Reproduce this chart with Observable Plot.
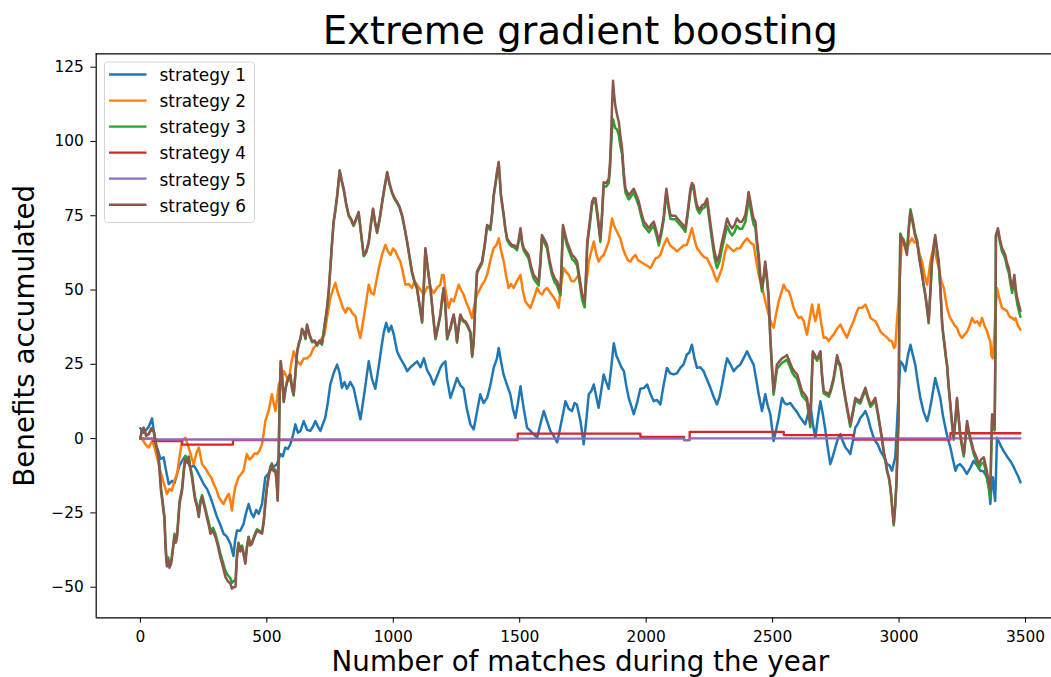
<!DOCTYPE html>
<html><head><meta charset="utf-8">
<script src="https://cdn.jsdelivr.net/npm/d3@7"></script>
<script src="https://cdn.jsdelivr.net/npm/@observablehq/plot@0.6"></script>
<style>
html,body{margin:0;padding:0;background:#fff;}
#chart{width:1051px;height:677px;overflow:hidden;}
</style></head><body><div id="chart"></div>
<script>
const titleText = "Extreme gradient boosting";
const xLabel = "Number of matches during the year";
const yLabel = "Benefits accumulated";
const seriesNames = ["strategy 1","strategy 2","strategy 3","strategy 4","strategy 5","strategy 6"];
const colors = ["#1f77b4","#ff7f0e","#2ca02c","#d62728","#9467bd","#8c564b"];
const xTicks = [0,500,1000,1500,2000,2500,3000,3500];
const yTicks = [-50,-25,0,25,50,75,100,125];
const xDomain = [-174.7, 3602.8];
const yDomain = [-60.3, 129.5];

const s1 = [[0,3.5],[12,2],[20,2.6],[33,4],[46,6.8],[52,3],[59,-1.8],[70,-4],[79,-6.8],[92,-6.3],[102,-11],[112,-15.3],[125,-14.2],[135,-15],[145,-11.9],[155,-9],[165,-7.5],[178,-5.8],[188,-8],[198,-9.7],[211,-9],[224,-10.8],[237,-13],[250,-15.3],[264,-17],[277,-19.7],[290,-23],[303,-26.4],[316,-29],[329,-32],[342,-33],[356,-35.4],[368,-39.5],[375,-34],[382,-30.9],[395,-31],[408,-28.7],[418,-25],[428,-22],[438,-25],[448,-26.4],[458,-24],[468,-25.3],[481,-22],[494,-13],[504,-12],[514,-10.8],[527,-9.5],[540,-8.6],[554,-5.2],[563,-6],[573,-3],[583,-3.5],[593,-1.9],[603,1],[613,4.8],[623,2],[633,2.6],[646,5.9],[659,3],[672,2.6],[682,4],[692,5.9],[702,4],[712,2.6],[722,5],[731,7],[741,12],[751,18.2],[764,22],[778,24.9],[788,22],[797,17.1],[807,19],[817,16.8],[830,19],[843,17.1],[856,12],[870,6.5],[880,12],[890,18],[903,26],[916,20],[929,16.8],[942,24],[952,30],[962,35.5],[972,39],[982,36],[992,38],[1002,35],[1015,29.4],[1028,27],[1042,25],[1055,22.7],[1068,24],[1081,25],[1094,26],[1108,24],[1121,27],[1134,23],[1147,21],[1160,18.2],[1173,21],[1186,23.8],[1193,24.9],[1206,26],[1213,20],[1226,13.7],[1239,17],[1252,20.4],[1265,18],[1278,16.8],[1291,10],[1305,4.8],[1318,3.1],[1331,9],[1344,14.9],[1357,12],[1371,13.7],[1384,18],[1397,23.8],[1410,27],[1417,30.5],[1426,26],[1436,21.6],[1450,18],[1463,14.9],[1473,10],[1483,7],[1493,12],[1503,17.6],[1516,10],[1529,3.7],[1549,2],[1569,0.3],[1582,5],[1595,9.3],[1608,6],[1621,2.6],[1634,1],[1648,-1.3],[1661,4],[1681,12.6],[1694,10],[1707,9.3],[1717,12],[1726,11.5],[1740,6],[1753,-1.9],[1763,6],[1773,14.9],[1783,16],[1793,18.2],[1803,14],[1812,10.4],[1822,16],[1832,21.6],[1842,19],[1852,16.8],[1862,24],[1872,32.1],[1882,28],[1892,26],[1902,24],[1912,22.7],[1921,18],[1931,13.7],[1941,11],[1951,8.2],[1964,12],[1977,16.8],[1991,17],[2004,18.2],[2017,15],[2030,12.6],[2043,13],[2056,11.5],[2069,18],[2082,23.8],[2095,22],[2109,21.6],[2122,22],[2135,23.8],[2148,25],[2161,28.3],[2171,29],[2181,31.6],[2191,27],[2201,23.8],[2214,24],[2227,22.7],[2240,20],[2254,17.1],[2267,14],[2280,11.5],[2290,14],[2300,18.2],[2310,23],[2320,27],[2333,25],[2346,22.7],[2359,24],[2372,24.9],[2385,27],[2399,29.4],[2412,27],[2425,24.9],[2435,20],[2445,14.9],[2458,9.3],[2471,14.9],[2481,11],[2491,8.2],[2504,-0.8],[2514,3],[2524,7],[2537,13.7],[2547,12],[2557,11.5],[2570,12],[2583,10.4],[2596,9],[2610,7],[2629,4.8],[2639,8],[2649,11.5],[2659,5],[2669,0.3],[2679,7],[2689,12.6],[2699,8],[2709,2.6],[2718,-3],[2728,-8.6],[2738,-6],[2748,-3],[2758,0],[2768,1.5],[2778,-1],[2788,-3],[2798,-4],[2807,-5.2],[2817,-1],[2827,3.7],[2837,5],[2847,7],[2857,8],[2867,9.3],[2877,7],[2887,3.7],[2897,1],[2906,-0.8],[2916,-2],[2926,-4.1],[2939,-6],[2953,-8.6],[2962,-9],[2972,-10.8],[2980,-8],[2985,-6.3],[2995,10],[3005,26],[3015,25],[3025,22.7],[3035,28],[3045,31.6],[3055,28],[3064,24.9],[3074,19],[3084,13.7],[3097,9],[3111,5.9],[3120,9],[3130,13.7],[3143,20.4],[3153,17],[3163,13.7],[3173,8],[3183,3.7],[3193,0],[3203,-3],[3213,-7],[3223,-10.8],[3232,-9],[3242,-8.6],[3255,-10],[3268,-11.9],[3281,-10],[3295,-7.5],[3308,-9],[3321,-10.8],[3334,-11],[3347,-13],[3355,-16],[3361,-22],[3366,-15],[3371,-13],[3376,-18],[3380,-21],[3384,-10],[3387,0.3],[3400,-2],[3413,-4.1],[3427,-6],[3440,-7.5],[3450,-9],[3460,-10.8],[3470,-12.5],[3480,-14.7]];

const s2 = [[0,0.3],[10,-0.5],[20,-1.9],[33,-3],[46,-0.8],[56,-3],[66,-6.3],[76,-10],[86,-13],[96,-16],[105,-18.6],[115,-17],[125,-17.5],[135,-14],[145,-11.9],[155,-6],[165,-0.8],[178,0.3],[191,-3],[201,-6],[211,-8.6],[221,-5],[231,-3],[244,-8.6],[257,-10],[270,-11.9],[280,-13],[290,-15.3],[300,-17],[310,-19.7],[320,-21],[329,-22],[339,-20],[349,-18.6],[356,-21],[362,-24.2],[368,-20],[375,-16.4],[388,-13],[398,-12],[408,-10.8],[414,-8],[421,-5.2],[431,-7],[441,-6.3],[451,-5],[461,-5.2],[471,-4],[481,-1.9],[488,2],[494,5.9],[507,9.3],[520,14.9],[527,12],[534,9.3],[540,13],[547,18.2],[557,20],[567,22.7],[577,21],[587,19.3],[596,25],[606,29.4],[620,26],[633,24.9],[646,27],[659,27],[672,28],[685,30.5],[702,32],[718,33.8],[728,35],[738,40.6],[745,44],[751,47.3],[761,50],[771,52.4],[781,49],[791,46.6],[801,44],[811,42.4],[820,44],[830,43.5],[840,42],[850,41.3],[860,37],[870,33.9],[876,37],[883,40.6],[893,46],[903,51.8],[913,49],[923,48.5],[933,53],[943,57.4],[956,62],[969,65.2],[979,63],[989,61.8],[999,64],[1009,63],[1019,61],[1028,59.6],[1038,56],[1048,51.8],[1061,52],[1074,50.7],[1084,53],[1094,51.8],[1108,50],[1121,48.5],[1134,51],[1147,50.7],[1160,49],[1173,50.7],[1186,51.8],[1193,55.1],[1199,55.1],[1206,50],[1219,44],[1229,47],[1239,46.2],[1249,49],[1259,51.8],[1268,50],[1278,48.5],[1288,46],[1298,44],[1311,40.6],[1321,45],[1331,48.5],[1341,50],[1351,51.8],[1361,53],[1371,55.1],[1384,60],[1397,64.1],[1407,65],[1417,67.4],[1427,63],[1437,59.6],[1446,55],[1456,50.7],[1466,52],[1476,50.7],[1489,53],[1503,55.1],[1512,50],[1522,46.2],[1532,45],[1542,44],[1555,47],[1569,50.7],[1579,49],[1589,48.5],[1598,50],[1608,50.7],[1622,49],[1635,47.4],[1645,46],[1654,44],[1664,52],[1674,57.4],[1684,56],[1694,55.1],[1704,53],[1714,52.9],[1724,54],[1733,55.1],[1743,50],[1753,45.1],[1763,52],[1773,59.6],[1783,63],[1793,66.3],[1803,62],[1812,59.6],[1822,61],[1832,61.8],[1842,64],[1852,66.3],[1858,70],[1865,74.1],[1872,72],[1878,70.8],[1888,69],[1898,67.4],[1908,64],[1918,61.8],[1928,60],[1938,59.6],[1948,61],[1958,61.8],[1968,60],[1977,59.6],[1987,59],[1997,58.5],[2007,58],[2017,57.4],[2027,59],[2037,60.7],[2047,61],[2056,61.8],[2069,65],[2082,67.4],[2095,65],[2109,64.1],[2122,63],[2135,64],[2148,65],[2161,65.2],[2171,68],[2181,70.8],[2191,67],[2201,64.1],[2211,63],[2221,61.8],[2231,61],[2241,60.7],[2250,59],[2260,57.4],[2270,55],[2280,52.9],[2290,55],[2300,57.4],[2310,62],[2320,65.2],[2333,64],[2346,63],[2359,64],[2372,64.1],[2385,66],[2399,67.4],[2412,66],[2425,65.2],[2435,60],[2445,55.1],[2455,52],[2465,48.5],[2475,45],[2484,41.8],[2494,39],[2504,37.3],[2514,42],[2524,46.2],[2534,49],[2544,51.8],[2554,50],[2564,49.6],[2574,47],[2583,44],[2593,42],[2603,40.6],[2613,41],[2623,39.5],[2630,37],[2636,35],[2646,40],[2656,45.1],[2662,42],[2669,39.5],[2676,42],[2682,45.1],[2692,39],[2702,33.9],[2712,34],[2722,32.8],[2731,34],[2741,35],[2755,37],[2768,38.4],[2781,36],[2794,34],[2807,37],[2820,39.5],[2830,42],[2840,44],[2853,44],[2867,45.1],[2877,43],[2887,40.6],[2897,40],[2906,39.5],[2916,38],[2926,36.1],[2939,35],[2953,34],[2962,33],[2972,32.8],[2980,30.5],[2985,31],[2992,40],[2998,46.2],[3005,58],[3011,66.3],[3021,65],[3031,64.1],[3041,66],[3051,67.4],[3061,66],[3071,66.3],[3081,62],[3091,59.6],[3101,55],[3111,51.8],[3117,55],[3124,59.6],[3130,62],[3137,64.1],[3147,61],[3157,57.4],[3167,53],[3177,50.7],[3184,47],[3190,44],[3200,41],[3210,39.5],[3220,38],[3229,37.3],[3239,35],[3249,33.9],[3259,35],[3269,36],[3279,38],[3289,40.6],[3299,39],[3309,39.5],[3319,38],[3328,40.6],[3338,38],[3348,36.1],[3355,34],[3361,32.8],[3365,28],[3370,27],[3376,34],[3381,42],[3387,50.7],[3397,47],[3407,44],[3417,43.5],[3427,42.9],[3437,41],[3447,40.6],[3455,40],[3460,40.6],[3470,38],[3480,36.7]];

const s3 = [[0,0],[6,3],[13,3.5],[23,1],[33,1.5],[43,3],[53,2.6],[62,-2],[72,-6],[82,-17],[88,-21],[95,-26],[100,-36],[105,-42],[110,-40],[115,-42.5],[122,-41],[128,-37],[135,-32],[140,-34],[145,-32.5],[155,-21],[165,-16.5],[172,-10],[178,-6],[184,-7.5],[191,-6],[197,-9.5],[204,-12],[210,-16],[217,-20],[224,-22],[231,-25.5],[237,-21],[244,-19],[250,-21],[257,-23.5],[264,-26],[270,-28],[277,-31],[287,-30],[297,-32],[306,-35],[316,-38.5],[326,-41.5],[336,-44.5],[346,-46],[356,-47],[362,-48.5],[368,-48],[376,-47.5],[382,-39],[388,-35],[395,-37],[402,-36],[408,-38.5],[415,-41.5],[421,-36.5],[428,-33],[434,-35.5],[441,-35],[451,-32.5],[461,-30.5],[471,-31],[481,-31.5],[488,-27.5],[494,-21.5],[500,-16.5],[507,-12.5],[514,-9.5],[520,-8.3],[527,-10.5],[534,-10.5],[539,-14.5],[543,-20.5],[547,-5],[551,15],[555,26],[561,20],[567,12.3],[574,16.6],[580,19],[587,20.6],[593,21.2],[600,16.6],[606,14.5],[613,21.6],[620,29],[626,31.6],[633,33.4],[639,36.6],[646,35.6],[653,33.5],[659,38],[669,34.6],[679,32.4],[689,32.6],[699,31.3],[708,32.6],[718,31.6],[728,37.6],[738,43.6],[745,49.6],[751,57],[757,64.6],[764,72.6],[771,76.6],[778,81.4],[783,85.6],[788,90],[796,86.6],[804,83.7],[814,78.6],[824,74.8],[833,73.6],[843,71.5],[853,73.6],[863,75.9],[873,68.6],[883,61.4],[893,62.6],[903,65.9],[911,71.6],[920,77],[928,72.6],[936,69.2],[946,73.6],[956,79.3],[966,84.6],[976,89.3],[985,85.6],[995,82.6],[1005,80.6],[1015,79.3],[1025,77.6],[1035,74.8],[1045,70.6],[1055,65.9],[1065,60.6],[1074,55.8],[1084,52.6],[1094,50.3],[1104,44.6],[1114,39],[1120,49.6],[1127,63.6],[1137,56.5],[1147,50.2],[1157,41.5],[1167,33.4],[1177,37.5],[1186,41.3],[1193,46.5],[1199,50.2],[1206,44.5],[1213,33.4],[1220,35.5],[1226,36.8],[1233,39.5],[1239,41.3],[1246,37.5],[1252,32.3],[1259,37.5],[1265,41.3],[1275,39.5],[1285,39],[1295,37.5],[1305,35.5],[1312,27.5],[1318,32.3],[1324,44.5],[1331,55.6],[1341,57.4],[1351,59],[1361,64.4],[1371,71.3],[1384,70.2],[1391,75.4],[1397,81.4],[1404,85.4],[1410,89],[1417,92.4],[1426,81.4],[1437,74.6],[1443,70.4],[1450,66.8],[1460,65.4],[1469,64.6],[1479,64.3],[1489,63.4],[1496,66.3],[1503,70],[1510,65.2],[1516,63.3],[1525,62],[1535,60.6],[1545,56.8],[1555,53.8],[1565,52.6],[1575,51.5],[1582,58.8],[1588,67.4],[1598,65.8],[1608,64],[1618,58.8],[1628,55],[1638,52.6],[1648,51.4],[1655,49.6],[1661,48.2],[1666,58.8],[1671,70.8],[1679,67.8],[1687,65],[1697,62.7],[1707,60.4],[1717,59.6],[1727,58.2],[1737,52.5],[1747,46.6],[1757,44.2],[1762,53.5],[1767,65],[1777,71.8],[1786,78.6],[1793,79.8],[1800,79.6],[1810,72.8],[1819,66.2],[1825,73.8],[1832,85],[1842,84.8],[1852,86],[1857,90.5],[1861,98],[1865,104],[1869,107.5],[1873,106],[1878,104.5],[1885,104],[1892,102],[1898,98.5],[1905,95.5],[1911,88.5],[1918,82.8],[1925,81.6],[1931,80.5],[1941,81.6],[1951,82.8],[1961,80.6],[1971,78.3],[1981,74.6],[1991,71.6],[2001,70.6],[2011,69.4],[2020,70.6],[2030,71.6],[2040,68.6],[2050,65],[2060,68.8],[2070,74],[2075,78.8],[2080,82.9],[2088,77.8],[2096,74],[2105,73.8],[2115,73.8],[2125,72.8],[2135,71.8],[2145,70.8],[2155,69.6],[2165,75.8],[2175,82.9],[2181,84.8],[2188,84],[2195,79.8],[2201,77.3],[2211,75.8],[2221,77.3],[2231,77.8],[2241,79.4],[2250,73.4],[2260,67],[2270,61],[2280,57.4],[2290,59.6],[2300,64],[2310,67.6],[2320,71.6],[2330,69.6],[2340,68.4],[2350,69.6],[2359,71.6],[2369,70.6],[2379,70.6],[2392,72.8],[2399,76.6],[2405,80.8],[2412,77.8],[2419,74.3],[2425,72],[2432,71],[2438,65.2],[2445,60],[2451,53.6],[2458,49.5],[2465,54],[2471,58.6],[2478,53],[2484,47.6],[2488,39.4],[2491,33.5],[2497,24],[2504,14.8],[2510,18.6],[2517,23.4],[2527,24.5],[2537,25.5],[2547,26],[2557,26.6],[2567,24.5],[2577,22.3],[2587,21],[2597,20.1],[2606,17.5],[2616,14.5],[2626,13.6],[2636,12.4],[2643,7.8],[2649,3.8],[2654,17],[2659,28.6],[2668,27.2],[2676,26.2],[2682,27.2],[2689,28.6],[2695,21.2],[2702,15.2],[2712,14.7],[2722,14.1],[2731,16.2],[2741,19.6],[2748,23.2],[2755,27.3],[2761,25.2],[2768,24.1],[2778,18.2],[2788,12.9],[2798,8.2],[2807,4],[2817,8.2],[2827,12.9],[2837,12.2],[2847,11.8],[2857,14.2],[2867,16.3],[2877,13.2],[2887,10.7],[2897,11.7],[2906,12.9],[2916,8.2],[2926,3],[2933,-0.6],[2939,-4.6],[2946,-7.5],[2953,-11.2],[2960,-13.5],[2966,-17],[2972,-22.6],[2979,-29.2],[2985,-22.5],[2990,-14.6],[2994,-3.3],[2998,7],[3001,40.5],[3005,69],[3011,67.8],[3018,67],[3025,64.8],[3031,62.6],[3038,70.8],[3045,77.2],[3051,74.8],[3058,71.6],[3064,68.8],[3071,67],[3081,60.6],[3091,55.4],[3097,51.6],[3104,48],[3111,43.3],[3117,38.8],[3124,49.2],[3130,58.8],[3137,64.2],[3143,67.7],[3150,63.2],[3157,58.8],[3164,49.2],[3170,38.8],[3175,34.3],[3180,31],[3185,27.3],[3190,24.2],[3196,17.3],[3203,10.8],[3210,4.3],[3216,-0.4],[3223,6.2],[3229,12.9],[3236,6.2],[3242,0.7],[3249,-2.8],[3256,-6],[3262,-0.8],[3269,5],[3275,2.1],[3282,-0.6],[3289,-3],[3295,-5.2],[3305,-7.3],[3315,-10],[3325,-8.5],[3335,-8],[3345,-12],[3354,-16.5],[3361,-20],[3364,-7],[3368,7],[3373,4],[3378,2.7],[3381,29.5],[3383,68],[3391,70],[3399,66],[3407,63],[3414,61.8],[3420,60.5],[3427,57.6],[3434,55.8],[3440,52.4],[3447,49],[3452,51.2],[3456,53.2],[3462,48.2],[3467,45.5],[3474,43],[3480,41]];

const s4 = [[0,0],[50,-0.8],[165,-2],[366,-0.5],[1492,1.7],[1977,0.6],[2150,-0.5],[2172,2.3],[2544,1.2],[2820,-0.3],[3203,1.8],[3480,1.8]];
const s5 = [[0,0],[50,-0.3],[1492,0],[2150,-0.5],[2172,0.1],[3480,0.1]];

const s6 = [[0,0],[6,3],[13,3.7],[23,1],[33,1.5],[43,3.5],[53,2.6],[62,-2],[72,-6.3],[82,-18],[88,-22],[95,-27],[100,-38],[105,-43],[110,-41],[115,-43.5],[122,-42],[128,-38],[135,-33],[140,-35],[145,-33.2],[155,-22],[165,-17.5],[172,-11],[178,-7],[184,-8],[191,-6.3],[197,-10],[204,-13],[210,-17],[217,-20.9],[224,-23],[231,-26.4],[237,-22],[244,-19.7],[250,-22],[257,-24.2],[264,-27],[270,-29],[277,-32],[287,-31],[297,-33.2],[306,-36],[316,-39.9],[326,-43],[336,-46.5],[346,-48],[356,-48.8],[362,-50.5],[368,-50],[376,-49.9],[382,-40],[388,-35.4],[395,-38],[402,-36.5],[408,-39],[415,-42.1],[421,-37],[428,-33.2],[434,-36],[441,-35.4],[451,-33],[461,-31],[471,-31.5],[481,-32],[488,-28],[494,-22],[500,-17],[507,-13],[514,-10],[520,-8.6],[527,-11],[534,-10.8],[539,-15],[543,-20.9],[547,-5],[551,15],[555,26],[561,20],[567,12.6],[574,17],[580,19.3],[587,21],[593,21.6],[600,17],[606,14.9],[613,22],[620,29.4],[626,32],[633,33.8],[639,37],[646,36],[653,33.9],[659,38.4],[669,35],[679,32.8],[689,33],[699,31.7],[708,33],[718,32],[728,38],[738,44],[745,50],[751,57.4],[757,65],[764,73],[771,77],[778,81.8],[783,86],[788,90.3],[796,87],[804,84.1],[814,79],[824,75.2],[833,74],[843,71.9],[853,74],[863,76.3],[873,69],[883,61.8],[893,63],[903,66.3],[911,72],[920,77.4],[928,73],[936,69.6],[946,74],[956,79.7],[966,85],[976,89.7],[985,86],[995,83],[1005,81],[1015,79.7],[1025,78],[1035,75.2],[1045,71],[1055,66.3],[1065,61],[1074,56.2],[1084,53],[1094,50.7],[1104,45],[1114,39.5],[1120,50],[1127,64.1],[1137,57],[1147,50.7],[1157,42],[1167,33.9],[1177,38],[1186,41.8],[1193,47],[1199,50.7],[1206,45],[1213,33.9],[1220,36],[1226,37.3],[1233,40],[1239,41.8],[1246,38],[1252,32.8],[1259,38],[1265,41.8],[1275,40],[1285,39.5],[1295,38],[1305,36],[1312,28],[1318,32.8],[1324,45],[1331,56.2],[1341,58],[1351,59.6],[1361,65],[1371,71.9],[1384,70.8],[1391,76],[1397,82],[1404,86],[1410,89.7],[1417,93.1],[1426,82],[1437,75.2],[1443,71],[1450,67.4],[1460,66],[1469,65.2],[1479,65],[1489,64.1],[1496,67],[1503,70.8],[1510,66],[1516,64.1],[1525,63],[1535,61.8],[1545,58],[1555,55.1],[1565,54],[1575,52.9],[1582,60],[1588,68.5],[1598,67],[1608,65.2],[1618,60],[1628,56.2],[1638,54],[1648,52.9],[1655,51],[1661,49.6],[1666,60],[1671,71.9],[1679,69],[1687,66.3],[1697,64],[1707,61.8],[1717,61],[1727,59.6],[1737,54],[1747,48.4],[1757,46.2],[1762,55],[1767,66.3],[1777,73],[1786,79.7],[1793,81],[1800,80.8],[1810,74],[1819,67.4],[1825,75],[1832,86.3],[1842,86],[1852,87.4],[1857,93],[1861,100.8],[1865,112],[1869,120.4],[1873,116],[1878,112],[1885,109],[1892,106.4],[1898,102],[1905,97.5],[1911,90],[1918,84.1],[1925,83],[1931,81.9],[1941,83],[1951,84.1],[1961,82],[1971,79.7],[1981,76],[1991,73],[2001,72],[2011,70.8],[2020,72],[2030,73],[2040,70],[2050,66.3],[2060,70],[2070,75.2],[2075,80],[2080,84.1],[2088,79],[2096,75.2],[2105,75],[2115,75],[2125,74],[2135,73],[2145,72],[2155,70.8],[2165,77],[2175,84.1],[2181,86],[2188,85.2],[2195,81],[2201,78.5],[2211,77],[2221,78.5],[2231,79],[2241,80.8],[2250,75],[2260,68.6],[2270,63],[2280,59.6],[2290,62],[2300,66.3],[2310,70],[2320,74.1],[2330,72],[2340,70.8],[2350,72],[2359,74.1],[2369,73],[2379,73],[2392,75.2],[2399,79],[2405,83],[2412,80],[2419,76.3],[2425,74],[2432,73],[2438,67],[2445,61.8],[2451,55],[2458,50.7],[2465,55],[2471,59.6],[2478,54],[2484,48.5],[2488,40],[2491,34],[2497,25],[2504,16],[2510,20],[2517,24.9],[2527,26],[2537,27],[2547,27.5],[2557,28.1],[2567,26],[2577,23.8],[2587,22.5],[2597,21.6],[2606,19],[2616,16],[2626,15],[2636,13.7],[2643,9],[2649,4.8],[2654,18],[2659,29.4],[2668,28],[2676,27],[2682,28],[2689,29.4],[2695,22],[2702,16],[2712,15.5],[2722,14.9],[2731,17],[2741,20.4],[2748,24],[2755,28.1],[2761,26],[2768,24.9],[2778,19],[2788,13.7],[2798,9],[2807,4.8],[2817,9],[2827,13.7],[2837,13],[2847,12.6],[2857,15],[2867,17.1],[2877,14],[2887,11.5],[2897,12.5],[2906,13.7],[2916,9],[2926,3.7],[2933,0],[2939,-4.1],[2946,-7],[2953,-10.8],[2960,-13],[2966,-16.4],[2972,-22],[2979,-28.7],[2985,-22],[2990,-14.2],[2994,-3],[2998,7],[3001,40],[3005,68.5],[3011,67],[3018,66.3],[3025,64],[3031,61.8],[3038,70],[3045,76.3],[3051,74],[3058,70.8],[3064,68],[3071,66.3],[3081,60],[3091,55.1],[3097,52],[3104,48.5],[3111,44],[3117,39.5],[3124,50],[3130,59.6],[3137,65],[3143,68.5],[3150,64],[3157,59.6],[3164,50],[3170,39.5],[3175,35],[3180,31.7],[3185,28],[3190,24.9],[3196,18],[3203,11.5],[3210,5],[3216,0.3],[3223,7],[3229,13.7],[3236,7],[3242,1.5],[3249,-2],[3256,-5.2],[3262,0],[3269,5.9],[3275,3],[3282,0.3],[3289,-2],[3295,-4.1],[3305,-6],[3315,-8.6],[3325,-7],[3335,-6.3],[3345,-10],[3354,-14.2],[3361,-17.5],[3364,-5],[3368,8.2],[3373,5],[3378,3.7],[3381,30],[3383,68.5],[3391,70.8],[3399,67],[3407,64.1],[3414,63],[3420,61.8],[3427,59],[3434,57.4],[3440,54],[3447,50.7],[3452,53],[3456,55.1],[3462,50],[3467,47.4],[3474,45],[3480,43]];

const rows = (pts, name) => pts.map(([x, y]) => ({x, y, name}));
const baseData = [...rows(s1, seriesNames[0]), ...rows(s2, seriesNames[1]), ...rows(s3, seriesNames[2])];
const stepData = [...rows(s4, seriesNames[3]), ...rows(s5, seriesNames[4])];
const topData = rows(s6, seriesNames[5]);

const fmt = d => d < 0 ? "\u2212" + Math.abs(d) : String(d);
const lineOpts = {x: "x", y: "y", z: "name", stroke: "name", strokeWidth: 2.5, strokeLinejoin: "round"};

const plot = Plot.plot({
  width: 1051, height: 677,
  marginLeft: 95.7, marginRight: 0, marginTop: 53.3, marginBottom: 59.7,
  style: {fontFamily: "DejaVu Sans", fontSize: "15.4px", color: "#000", background: "#fff"},
  x: {domain: xDomain, ticks: xTicks, tickSize: 5.4, tickPadding: 8, tickFormat: fmt, label: null},
  y: {domain: yDomain, ticks: yTicks, tickSize: 5.4, tickPadding: 7, tickFormat: fmt, label: null},
  color: {domain: seriesNames, range: colors},
  marks: [
    Plot.line(baseData, lineOpts),
    Plot.line(stepData, {...lineOpts, strokeWidth: 2.3, curve: "step-after"}),
    Plot.line(topData, lineOpts),
    Plot.ruleX([xDomain[0]], {stroke: "#000", strokeWidth: 1.2}),
    Plot.ruleY([yDomain[0], yDomain[1]], {stroke: "#000", strokeWidth: 1.2}),
    Plot.text([titleText], {text: d => d, frameAnchor: "top", textAnchor: "middle", lineAnchor: "bottom", dx: 6.5, dy: -10.3, fontSize: 38.5, fill: "#000"}),
    Plot.text([xLabel], {text: d => d, frameAnchor: "bottom", textAnchor: "middle", lineAnchor: "bottom", dx: 6.5, dy: 53, fontSize: 27.7, fill: "#000"}),
    Plot.text([yLabel], {text: d => d, frameAnchor: "left", textAnchor: "middle", lineAnchor: "bottom", rotate: -90, dx: -62.4, fontSize: 27.7, fill: "#000"})
  ]
});
document.getElementById("chart").appendChild(plot);

// legend (matplotlib-style box, upper left)
const lg = d3.select(plot).append("g").attr("font-family", "DejaVu Sans").attr("font-size", 16.9).attr("text-anchor", "start");
lg.append("rect").attr("x", 104.5).attr("y", 62).attr("width", 150).attr("height", 160.5)
  .attr("rx", 3).attr("fill", "#fff").attr("fill-opacity", 0.8).attr("stroke", "#d6d6d6").attr("stroke-width", 1);
seriesNames.forEach((name, i) => {
  const cy = 74.5 + i * 26.05;
  lg.append("line").attr("x1", 109).attr("x2", 146.5).attr("y1", cy).attr("y2", cy)
    .attr("stroke", colors[i]).attr("stroke-width", 2.3);
  lg.append("text").attr("x", 159.5).attr("y", cy + 6.8).attr("text-anchor", "start").attr("fill", "#000").text(name);
});
</script></body></html>
